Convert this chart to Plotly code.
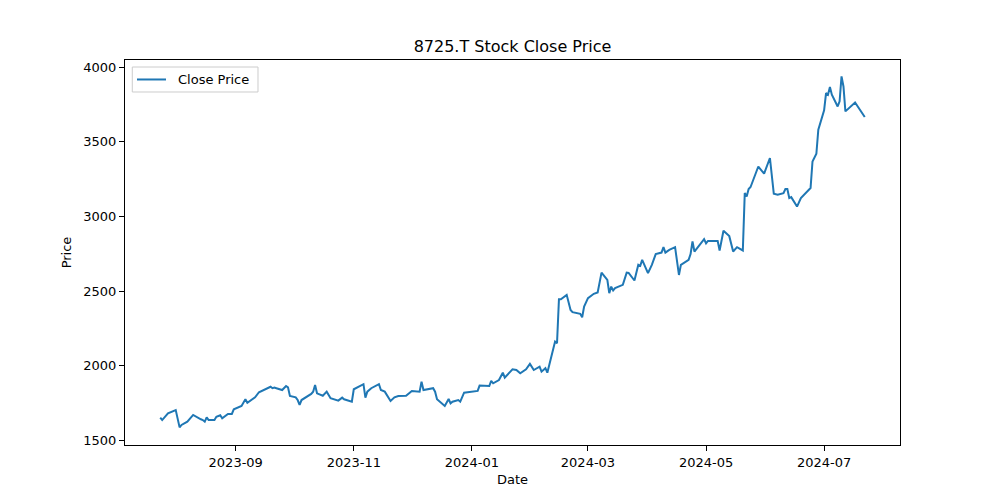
import plotly.graph_objects as go

dates = [
    "2023-07-24", "2023-07-25", "2023-07-28", "2023-08-01", "2023-08-03", "2023-08-04",
    "2023-08-07", "2023-08-10", "2023-08-14", "2023-08-15", "2023-08-16", "2023-08-17",
    "2023-08-18", "2023-08-21", "2023-08-22", "2023-08-24", "2023-08-25", "2023-08-28",
    "2023-08-30", "2023-08-31", "2023-09-04", "2023-09-06", "2023-09-07", "2023-09-11",
    "2023-09-13", "2023-09-19", "2023-09-20", "2023-09-21", "2023-09-22", "2023-09-25",
    "2023-09-27", "2023-09-28", "2023-09-29", "2023-10-02", "2023-10-03", "2023-10-04",
    "2023-10-05", "2023-10-10", "2023-10-11", "2023-10-12", "2023-10-13", "2023-10-16",
    "2023-10-18", "2023-10-20", "2023-10-24", "2023-10-25", "2023-10-26", "2023-10-27",
    "2023-10-31", "2023-11-01", "2023-11-06", "2023-11-07", "2023-11-08", "2023-11-10",
    "2023-11-14", "2023-11-15", "2023-11-17", "2023-11-20", "2023-11-22", "2023-11-24",
    "2023-11-28", "2023-12-01", "2023-12-05", "2023-12-06", "2023-12-07", "2023-12-12",
    "2023-12-13", "2023-12-14", "2023-12-18", "2023-12-20", "2023-12-21", "2023-12-22",
    "2023-12-25", "2023-12-26", "2023-12-28", "2024-01-04", "2024-01-05", "2024-01-10",
    "2024-01-11", "2024-01-12", "2024-01-15", "2024-01-17", "2024-01-18", "2024-01-22",
    "2024-01-24", "2024-01-26", "2024-01-29", "2024-01-31", "2024-02-02", "2024-02-05",
    "2024-02-06", "2024-02-08", "2024-02-09", "2024-02-13", "2024-02-14", "2024-02-15",
    "2024-02-16", "2024-02-19", "2024-02-21", "2024-02-22", "2024-02-26", "2024-02-27",
    "2024-02-28", "2024-03-01", "2024-03-04", "2024-03-06", "2024-03-08", "2024-03-11",
    "2024-03-12", "2024-03-13", "2024-03-14", "2024-03-15", "2024-03-19", "2024-03-21",
    "2024-03-22", "2024-03-25", "2024-03-27", "2024-03-28", "2024-03-29", "2024-04-01",
    "2024-04-03", "2024-04-05", "2024-04-08", "2024-04-09", "2024-04-10", "2024-04-12",
    "2024-04-15", "2024-04-17", "2024-04-18", "2024-04-22", "2024-04-23", "2024-04-24",
    "2024-04-25", "2024-04-30", "2024-05-01", "2024-05-02", "2024-05-07", "2024-05-08",
    "2024-05-10", "2024-05-13", "2024-05-15", "2024-05-17", "2024-05-20", "2024-05-21",
    "2024-05-22", "2024-05-23", "2024-05-24", "2024-05-28", "2024-05-31", "2024-06-03",
    "2024-06-05", "2024-06-07", "2024-06-10", "2024-06-11", "2024-06-12", "2024-06-13",
    "2024-06-14", "2024-06-17", "2024-06-19", "2024-06-24", "2024-06-25", "2024-06-27",
    "2024-06-28", "2024-07-01", "2024-07-02", "2024-07-03", "2024-07-04", "2024-07-05",
    "2024-07-08", "2024-07-09", "2024-07-10", "2024-07-11", "2024-07-12", "2024-07-17",
    "2024-07-22",
]

close_price = [
    1653, 1637, 1682, 1704, 1588, 1604,
    1626, 1671, 1642, 1637, 1626, 1655,
    1637, 1637, 1659, 1669, 1649, 1678,
    1678, 1709, 1731, 1776, 1753, 1789,
    1823, 1860, 1850, 1854, 1850, 1838,
    1865, 1856, 1798, 1789, 1771, 1738,
    1771, 1812, 1827, 1872, 1816, 1800,
    1827, 1783, 1767, 1776, 1787, 1776,
    1760, 1843, 1877, 1787, 1827, 1850,
    1877, 1838, 1827, 1765, 1789, 1798,
    1800, 1832, 1827, 1894, 1838, 1850,
    1827, 1776, 1731, 1778, 1749, 1760,
    1771, 1760, 1820, 1832, 1868, 1865,
    1899, 1883, 1905, 1954, 1921, 1977,
    1972, 1950, 1977, 2013, 1972, 1994,
    1961, 1984, 1954, 2162, 2151, 2446,
    2446, 2475, 2374, 2359, 2348, 2325,
    2396, 2453, 2482, 2491, 2624, 2575,
    2486, 2530, 2504, 2520, 2542, 2624,
    2622, 2571, 2676, 2669, 2709, 2620,
    2676, 2748, 2758, 2794, 2758, 2776,
    2794, 2608, 2676, 2709, 2748, 2832,
    2765, 2848, 2820, 2836, 2836, 2772,
    2904, 2868, 2765, 2794, 2772, 3156,
    3133, 3183, 3197, 3334, 3286, 3391,
    3152, 3145, 3156, 3183, 3183, 3123,
    3129, 3066, 3123, 3190, 3368, 3419,
    3580, 3710, 3826, 3815, 3866, 3815,
    3736, 3770, 3937, 3870, 3703, 3763,
    3665,
]

series_name = "Close Price"
tick_vals = ["2023-09-01", "2023-11-01", "2024-01-01", "2024-03-01", "2024-05-01", "2024-07-01"]
tick_text = ["2023-09", "2023-11", "2024-01", "2024-03", "2024-05", "2024-07"]
y_ticks = [1500, 2000, 2500, 3000, 3500, 4000]

FONT = "DejaVu Sans"
LINE_COLOR = "#1f77b4"

fig = go.Figure()
fig.add_trace(go.Scatter(
    x=dates, y=close_price, mode="lines", name=series_name,
    line=dict(color=LINE_COLOR, width=2), showlegend=False,
))

axis_common = dict(
    showline=True, linecolor="black", linewidth=1, mirror=True,
    ticks="outside", ticklen=5, tickwidth=1, tickcolor="black",
    showgrid=False, zeroline=False, automargin=False,
    tickfont=dict(family=FONT, size=13, color="black"),
)

# matplotlib-style legend box (upper left) drawn in paper coordinates
legend_shapes = [
    dict(type="rect", xref="paper", yref="paper", x0=0.0094, x1=0.1716, y0=0.9169, y1=0.9818,
         line=dict(color="#cccccc", width=1), fillcolor="rgba(255,255,255,0.8)", layer="above"),
    dict(type="line", xref="paper", yref="paper", x0=0.0155, x1=0.0529, y0=0.9494, y1=0.9494,
         line=dict(color=LINE_COLOR, width=2), layer="above"),
]
legend_text = dict(text=series_name, xref="paper", yref="paper", x=0.0655, y=0.9494,
                   xanchor="left", yanchor="middle", showarrow=False,
                   font=dict(family=FONT, size=13, color="black"))

fig.update_layout(
    width=1000, height=500,
    margin=dict(l=125, r=100, t=60, b=55),
    paper_bgcolor="white", plot_bgcolor="white",
    font=dict(family=FONT, size=13, color="black"),
    title=dict(text="8725.T Stock Close Price", x=0.5, xref="paper", xanchor="center",
               y=1 - 46 / 500, yref="container", yanchor="middle",
               font=dict(family=FONT, size=16, color="black")),
    xaxis=dict(
        range=["2023-07-05 19:00", "2024-08-09 05:00"],
        tickvals=tick_vals, ticktext=tick_text,
        title=dict(text="Date", standoff=6, font=dict(family=FONT, size=13, color="black")),
        **axis_common,
    ),
    yaxis=dict(
        range=[1470, 4047],
        tickvals=y_ticks,
        title=dict(text="Price", standoff=8, font=dict(family=FONT, size=13, color="black")),
        **axis_common,
    ),
    showlegend=False,
    shapes=legend_shapes,
    annotations=[legend_text],
)

fig.write_html("out.html", config={"displayModeBar": False},
               post_script="document.body.style.margin='0';document.body.style.overflow='hidden';")
